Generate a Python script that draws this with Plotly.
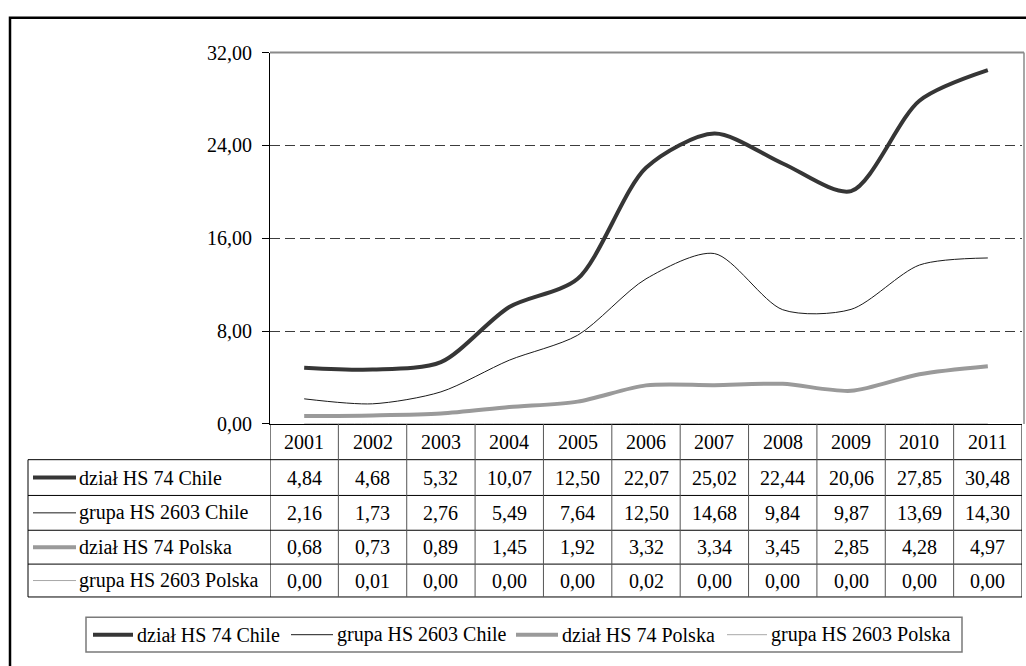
import plotly.graph_objects as go

# ---- data ----
years = [2001, 2002, 2003, 2004, 2005, 2006, 2007, 2008, 2009, 2010, 2011]
series_names = ["dział HS 74 Chile", "grupa HS 2603 Chile",
                "dział HS 74 Polska", "grupa HS 2603 Polska"]
hs74_chile = [4.84, 4.68, 5.32, 10.07, 12.50, 22.07, 25.02, 22.44, 20.06, 27.85, 30.48]
hs2603_chile = [2.16, 1.73, 2.76, 5.49, 7.64, 12.50, 14.68, 9.84, 9.87, 13.69, 14.30]
hs74_polska = [0.68, 0.73, 0.89, 1.45, 1.92, 3.32, 3.34, 3.45, 2.85, 4.28, 4.97]
hs2603_polska = [0.00, 0.01, 0.00, 0.00, 0.00, 0.02, 0.00, 0.00, 0.00, 0.00, 0.00]
y_ticks = [0, 8, 16, 24, 32]

series_values = [hs74_chile, hs2603_chile, hs74_polska, hs2603_polska]

# ---- styles ----
line_colors = ["#363636", "#1a1a1a", "#9a9a9a", "#a8a8a8"]
line_widths = [4, 1, 4, 1]
FONT = "Liberation Serif, Times New Roman, serif"
FS = 20

W, H = 1026, 666


def px(x):
    return x / W


def py(y):
    return 1 - y / H


def fmt(v):
    return f"{v:.2f}".replace(".", ",")


fig = go.Figure()
for name, vals, col, wid in zip(series_names, series_values, line_colors, line_widths):
    fig.add_trace(go.Scatter(
        x=years, y=vals, mode="lines", name=name,
        line=dict(color=col, width=wid, shape="spline", smoothing=0.8),
        hoverinfo="skip", showlegend=False,
    ))

# plot area geometry (pixels)
PL, PR, PT, PB = 270, 1022, 43, 427
# table row boundaries (pixels)
rows = [427, 464, 501, 537, 572, 606]
TL = 28

shapes = []
annotations = []

# outer frame
shapes.append(dict(type="rect", xref="paper", yref="paper",
                   x0=px(10), x1=px(1060), y0=py(7), y1=py(700),
                   line=dict(color="black", width=2.5), layer="below"))
# plot area top/right border
shapes.append(dict(type="line", xref="paper", yref="paper",
                   x0=px(PL), x1=px(1024), y0=py(PT), y1=py(PT),
                   line=dict(color="#8a8a8a", width=2)))
shapes.append(dict(type="line", xref="paper", yref="paper",
                   x0=px(1024), x1=px(1024), y0=py(PT), y1=py(PB),
                   line=dict(color="#8a8a8a", width=1.5)))

# table horizontal lines
for r in rows[1:]:
    shapes.append(dict(type="line", xref="paper", yref="paper",
                       x0=px(TL), x1=px(PR), y0=py(r), y1=py(r),
                       line=dict(color="black", width=1)))
# table left border (label column)
shapes.append(dict(type="line", xref="paper", yref="paper",
                   x0=px(TL), x1=px(TL), y0=py(rows[1]), y1=py(rows[-1]),
                   line=dict(color="black", width=1)))
# column dividers on the category axis
bounds = [years[0] - 0.5] + [y + 0.5 for y in years]
for i, b in enumerate(bounds):
    shapes.append(dict(type="line", xref="x", yref="paper",
                       x0=b, x1=b, y0=py(rows[0]), y1=py(rows[-1]),
                       line=dict(color="black" if i in (0, len(bounds) - 1) else "#555555",
                                 width=1)))

# header row: years
hc = (rows[0] + rows[1]) / 2
for yv in years:
    annotations.append(dict(x=yv, xref="x", y=py(hc), yref="paper",
                            text=str(yv), showarrow=False,
                            xanchor="center", yanchor="middle",
                            font=dict(family=FONT, size=FS, color="black")))

# data rows
for k, (name, vals, col, wid) in enumerate(zip(series_names, series_values,
                                                line_colors, line_widths)):
    rc = (rows[k + 1] + rows[k + 2]) / 2
    shapes.append(dict(type="line", xref="paper", yref="paper",
                       x0=px(33), x1=px(76), y0=py(rc), y1=py(rc),
                       line=dict(color=col, width=wid)))
    annotations.append(dict(x=px(77), xref="paper", y=py(rc), yref="paper",
                            text=name, showarrow=False,
                            xanchor="left", yanchor="middle",
                            font=dict(family=FONT, size=FS, color="black")))
    for yv, v in zip(years, vals):
        annotations.append(dict(x=yv, xref="x", y=py(rc), yref="paper",
                                text=fmt(v), showarrow=False,
                                xanchor="center", yanchor="middle",
                                font=dict(family=FONT, size=FS, color="black")))

# legend box below the table
LG_T, LG_B, LG_L, LG_R = 627, 663, 86, 962
shapes.append(dict(type="rect", xref="paper", yref="paper",
                   x0=px(LG_L), x1=px(LG_R), y0=py(LG_T), y1=py(LG_B),
                   line=dict(color="#7a7a7a", width=1.5)))
lg_c = (LG_T + LG_B) / 2
key_spans = [(93, 133), (291, 333), (516, 558), (727, 767)]
for (k0, k1), name, col, wid in zip(key_spans, series_names, line_colors, line_widths):
    shapes.append(dict(type="line", xref="paper", yref="paper",
                       x0=px(k0), x1=px(k1), y0=py(lg_c), y1=py(lg_c),
                       line=dict(color=col, width=wid)))
    annotations.append(dict(x=px(k1 + 2), xref="paper", y=py(lg_c), yref="paper",
                            text=name, showarrow=False,
                            xanchor="left", yanchor="middle",
                            font=dict(family=FONT, size=FS, color="black")))

fig.update_layout(
    width=W, height=H, autosize=False,
    margin=dict(l=0, r=0, t=0, b=0, pad=0),
    paper_bgcolor="white", plot_bgcolor="white",
    separators=", ",
    showlegend=False,
    font=dict(family=FONT, size=FS, color="black"),
    xaxis=dict(domain=[px(PL), px(PR)], range=[years[0] - 0.5, years[-1] + 0.5],
               showgrid=False, zeroline=False, showticklabels=False,
               showline=True, linecolor="black", linewidth=1, ticks=""),
    yaxis=dict(domain=[py(PB), py(PT)], range=[0, 32], tickvals=y_ticks,
               tickformat=".2f", showgrid=True, gridcolor="#3c3c3c",
               griddash="10px,5px", gridwidth=1, zeroline=False,
               showline=True, linecolor="black", linewidth=1,
               ticks="outside", ticklen=7, tickcolor="black",
               ticklabelstandoff=6,
               tickfont=dict(family=FONT, size=FS, color="black")),
    shapes=shapes,
    annotations=annotations,
)

fig.write_html("out.html")
